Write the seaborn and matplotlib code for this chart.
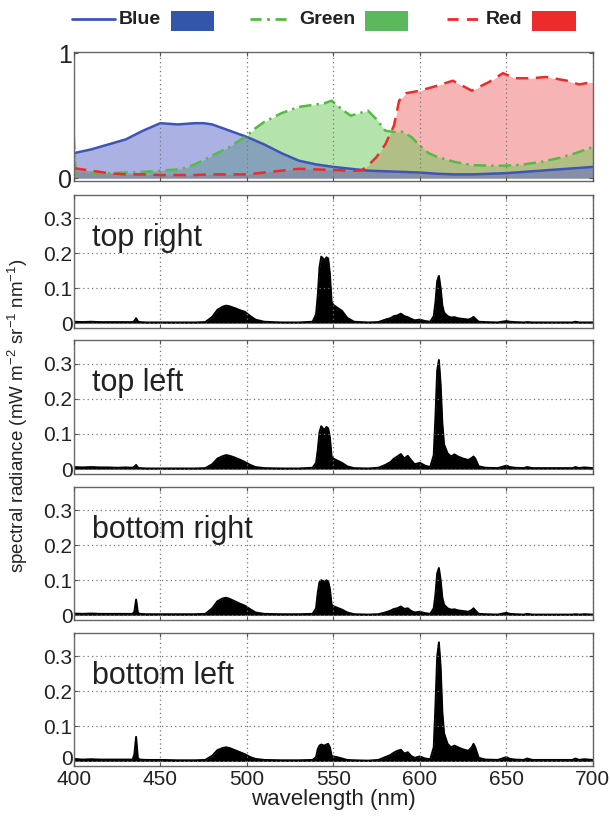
import matplotlib
matplotlib.use("Agg")
import matplotlib.pyplot as plt
import matplotlib.transforms as mtransforms
from matplotlib.lines import Line2D
from matplotlib.patches import Rectangle
import seaborn as sns
import pandas as pd

# ---------------- data ----------------
blue_wl = [400, 410, 420, 430, 440, 450, 460, 470, 475, 480, 490, 500, 510, 520, 530, 540,
           550, 560, 570, 580, 590, 600, 610, 620, 630, 640, 650, 660, 670, 680, 690, 700]
blue_val = [0.20, 0.23, 0.27, 0.31, 0.38, 0.44, 0.43, 0.44, 0.44, 0.43, 0.38, 0.33, 0.27, 0.20,
            0.14, 0.11, 0.09, 0.075, 0.06, 0.055, 0.05, 0.045, 0.035, 0.03, 0.03, 0.035, 0.04,
            0.05, 0.06, 0.07, 0.08, 0.09]

green_wl = [400, 401, 410, 420, 430, 440, 450, 460, 465, 470, 480, 490, 500, 505, 510, 520, 530,
            540, 545, 549, 555, 560, 565, 570, 575, 580, 585, 590, 595, 600, 605, 610, 620, 630,
            640, 650, 660, 670, 680, 690, 700]
green_val = [0.33, 0.05, 0.04, 0.04, 0.045, 0.05, 0.06, 0.07, 0.085, 0.11, 0.18, 0.25, 0.34, 0.40,
             0.45, 0.52, 0.57, 0.59, 0.60, 0.62, 0.55, 0.50, 0.52, 0.54, 0.47, 0.38, 0.37, 0.37,
             0.33, 0.26, 0.20, 0.17, 0.13, 0.105, 0.10, 0.10, 0.11, 0.13, 0.16, 0.20, 0.25]

red_wl = [400, 410, 420, 430, 440, 450, 460, 470, 480, 490, 500, 510, 520, 530, 540, 550, 560,
          566, 570, 575, 580, 585, 588, 592, 600, 610, 619, 630, 640, 648, 655, 665, 673, 685,
          692, 700]
red_val = [0.08, 0.06, 0.04, 0.03, 0.03, 0.025, 0.025, 0.025, 0.03, 0.03, 0.03, 0.045, 0.06,
           0.075, 0.07, 0.065, 0.06, 0.06, 0.10, 0.17, 0.27, 0.42, 0.62, 0.68, 0.70, 0.74, 0.78,
           0.70, 0.77, 0.84, 0.80, 0.80, 0.81, 0.78, 0.75, 0.77]

wl = [400, 405, 410, 415, 420, 425, 430, 434, 435, 436,
      437, 438, 442, 450, 460, 470, 476, 480, 483, 486,
      488, 490, 493, 496, 499, 502, 505, 510, 520, 530,
      538, 540, 541, 542, 543, 544, 545, 546, 547, 548,
      549, 550, 552, 555, 558, 562, 570, 576, 580, 583,
      585, 587, 589, 591, 593, 595, 597, 600, 603, 606,
      608, 609, 610, 611, 612, 613, 614, 616, 618, 620,
      622, 625, 628, 630, 631, 632, 634, 638, 645, 650,
      652, 655, 660, 662, 665, 670, 680, 688, 690, 692,
      695, 700]

top_right = [0.004, 0.003, 0.004, 0.003, 0.003, 0.003, 0.003, 0.003, 0.006, 0.014,
             0.005, 0.003, 0.002, 0.002, 0.002, 0.002, 0.003, 0.018, 0.038, 0.047,
             0.050, 0.048, 0.043, 0.037, 0.032, 0.020, 0.010, 0.004, 0.002, 0.002,
             0.004, 0.025, 0.080, 0.160, 0.190, 0.185, 0.180, 0.188, 0.185, 0.140,
             0.060, 0.052, 0.045, 0.035, 0.015, 0.004, 0.002, 0.003, 0.010, 0.014,
             0.020, 0.022, 0.027, 0.020, 0.017, 0.012, 0.008, 0.010, 0.006, 0.004,
             0.020, 0.060, 0.120, 0.135, 0.100, 0.050, 0.030, 0.020, 0.016, 0.017,
             0.014, 0.012, 0.010, 0.014, 0.018, 0.013, 0.004, 0.003, 0.002, 0.006,
             0.004, 0.003, 0.002, 0.003, 0.002, 0.002, 0.002, 0.002, 0.004, 0.002,
             0.002, 0.002]

top_left = [0.006, 0.005, 0.006, 0.005, 0.005, 0.004, 0.005, 0.004, 0.007, 0.012,
            0.005, 0.003, 0.002, 0.002, 0.002, 0.002, 0.003, 0.014, 0.030, 0.037,
            0.040, 0.038, 0.033, 0.027, 0.020, 0.012, 0.006, 0.003, 0.002, 0.002,
            0.004, 0.018, 0.055, 0.105, 0.122, 0.115, 0.112, 0.120, 0.116, 0.090,
            0.036, 0.030, 0.025, 0.018, 0.008, 0.003, 0.002, 0.004, 0.012, 0.020,
            0.030, 0.036, 0.043, 0.030, 0.038, 0.025, 0.014, 0.018, 0.010, 0.006,
            0.040, 0.150, 0.280, 0.310, 0.240, 0.130, 0.070, 0.045, 0.036, 0.042,
            0.036, 0.030, 0.026, 0.032, 0.036, 0.030, 0.008, 0.004, 0.003, 0.010,
            0.006, 0.004, 0.003, 0.006, 0.003, 0.003, 0.003, 0.003, 0.006, 0.003,
            0.005, 0.003]

bottom_right = [0.005, 0.004, 0.005, 0.004, 0.004, 0.004, 0.004, 0.004, 0.010, 0.045,
                0.008, 0.004, 0.003, 0.003, 0.003, 0.003, 0.004, 0.020, 0.040, 0.048,
                0.050, 0.047, 0.040, 0.033, 0.027, 0.017, 0.008, 0.004, 0.003, 0.003,
                0.004, 0.020, 0.065, 0.095, 0.100, 0.098, 0.097, 0.100, 0.097, 0.075,
                0.030, 0.026, 0.022, 0.016, 0.008, 0.003, 0.002, 0.003, 0.008, 0.013,
                0.018, 0.020, 0.025, 0.018, 0.020, 0.012, 0.008, 0.010, 0.006, 0.004,
                0.020, 0.060, 0.120, 0.135, 0.100, 0.050, 0.030, 0.020, 0.016, 0.017,
                0.014, 0.012, 0.010, 0.015, 0.020, 0.014, 0.004, 0.003, 0.002, 0.007,
                0.004, 0.003, 0.002, 0.004, 0.002, 0.002, 0.002, 0.002, 0.003, 0.002,
                0.003, 0.002]

bottom_left = [0.007, 0.005, 0.006, 0.005, 0.005, 0.005, 0.005, 0.005, 0.020, 0.070,
               0.010, 0.005, 0.004, 0.004, 0.003, 0.003, 0.004, 0.016, 0.032, 0.038,
               0.040, 0.038, 0.032, 0.026, 0.020, 0.012, 0.007, 0.004, 0.003, 0.003,
               0.004, 0.012, 0.035, 0.045, 0.048, 0.046, 0.045, 0.048, 0.050, 0.040,
               0.016, 0.014, 0.012, 0.008, 0.004, 0.003, 0.002, 0.004, 0.012, 0.018,
               0.025, 0.030, 0.033, 0.022, 0.026, 0.015, 0.010, 0.014, 0.008, 0.006,
               0.040, 0.160, 0.300, 0.340, 0.270, 0.140, 0.080, 0.050, 0.040, 0.045,
               0.040, 0.034, 0.030, 0.040, 0.050, 0.040, 0.010, 0.005, 0.004, 0.012,
               0.007, 0.005, 0.004, 0.008, 0.004, 0.004, 0.004, 0.004, 0.008, 0.004,
               0.006, 0.004]

panel_names = ["top right", "top left", "bottom right", "bottom left"]
panel_values = [top_right, top_left, bottom_right, bottom_left]

x_ticks = [400, 450, 500, 550, 600, 650, 700]
spec_yticks = [0, 0.1, 0.2, 0.3]
spec_yticklabels = ["0", "0.1", "0.2", "0.3"]

# ---------------- style ----------------
sns.set_theme(style="white")
plt.rcParams["font.family"] = ["Liberation Sans", "DejaVu Sans"]
plt.rcParams["mathtext.default"] = "regular"

fig = plt.figure(figsize=(6.10, 8.16), dpi=100)
fig.patch.set_facecolor("white")

L, W = 0.121, 0.851
rows = [(0.778, 0.158), (0.598, 0.163), (0.419, 0.164), (0.240, 0.163), (0.061, 0.163)]
axes = [fig.add_axes([L, b, W, h]) for b, h in rows]

def style_ax(ax):
    ax.set_xlim(400, 700)
    ax.set_xticks(x_ticks)
    ax.grid(True, linestyle=(0, (1, 2.5)), color="#777777", linewidth=0.9)
    ax.set_axisbelow(False)
    for s in ax.spines.values():
        s.set_color("#666666")
        s.set_linewidth(1.0)
        s.set_visible(True)
    ax.tick_params(direction="in", length=3, width=0.8, color="#555555",
                   top=True, right=True, bottom=True, left=True,
                   labelsize=15, pad=1, labelcolor="#222222")
    ax.set_xlabel("")
    ax.set_ylabel("")

# top panel: sensitivities
ax0 = axes[0]
curves = {
    "blue": (blue_wl, blue_val, "#3f55b5", "#5a64c8", "-"),
    "green": (green_wl, green_val, "#55bb44", "#6cc85a", (0, (5, 2, 1, 2))),
    "red": (red_wl, red_val, "#ee2a2a", "#f06a6a", (0, (5, 3))),
}
for key in ["red", "green", "blue"]:
    xs, ys, lc, fc, ls = curves[key]
    ax0.fill_between(xs, 0, ys, color=fc, alpha=0.5, linewidth=0)
for key in ["blue", "green", "red"]:
    xs, ys, lc, fc, ls = curves[key]
    sns.lineplot(x=xs, y=ys, ax=ax0, color=lc, linewidth=1.8, linestyle=ls)
ax0.set_ylim(-0.024, 1.008)
ax0.set_yticks([0, 1])
ax0.set_yticklabels(["0", "1"])
style_ax(ax0)
ax0.tick_params(labelbottom=False, labelsize=18)
ax0.yaxis.grid(False)

# spectrum panels
for ax, name, vals in zip(axes[1:], panel_names, panel_values):
    df = pd.DataFrame({"wavelength": wl, "radiance": vals})
    ax.fill_between(df["wavelength"], 0, df["radiance"], color="black", linewidth=0)
    sns.lineplot(data=df, x="wavelength", y="radiance", ax=ax, color="black", linewidth=1.4)
    ax.set_ylim(-0.014, 0.366)
    ax.set_yticks(spec_yticks)
    ax.set_yticklabels(spec_yticklabels)
    style_ax(ax)
    ax.tick_params(labelbottom=False)
    ax.text(0.035, 0.62, name, transform=ax.transAxes, fontsize=22,
            va="baseline", ha="left", color="#222222")

axes[-1].tick_params(axis="x", labelbottom=True, pad=3)
axes[-1].set_xlabel("wavelength (nm)", fontsize=16, color="#222222", labelpad=0)

# lift the bottom panel's "0" label a little so it clears the "400" label
fig.canvas.draw()
zero_lab = axes[-1].get_yticklabels()[0]
zero_lab.set_transform(zero_lab.get_transform() +
                       mtransforms.ScaledTranslation(0, 3 / 72, fig.dpi_scale_trans))

fig.text(0.03, 0.49, "spectral radiance (mW m$^{-2}$ sr$^{-1}$ nm$^{-1}$)",
         rotation=90, va="center", ha="center", fontsize=13.5, color="#222222")

# legend drawn in figure pixels
H, Wpx = 816.0, 610.0
def fx(px):
    return px / Wpx
def fy(py):
    return 1 - py / H

leg = [
    (72, 115, 119, 171, 214, "Blue", "#3f55b5", "#3355aa", "-"),
    (250, 291, 299, 365, 408, "Green", "#55bb44", "#5cb85c", (0, (4, 2, 1, 2))),
    (447, 482, 486, 532, 576, "Red", "#ee2a2a", "#ee2a2a", (0, (4, 3))),
]
for x0, x1, xt, r0, r1, lab, lc, rc, ls in leg:
    fig.add_artist(Line2D([fx(x0), fx(x1)], [fy(19), fy(19)], color=lc, linewidth=2,
                          linestyle=ls, transform=fig.transFigure))
    fig.text(fx(xt), fy(20), lab, fontsize=14, fontweight="bold", va="center", ha="left",
             color="#222222")
    fig.add_artist(Rectangle((fx(r0), fy(31)), fx(r1) - fx(r0), fy(11) - fy(31),
                             facecolor=rc, edgecolor="none", transform=fig.transFigure))

fig.savefig("out.png", dpi=100, facecolor="white")
